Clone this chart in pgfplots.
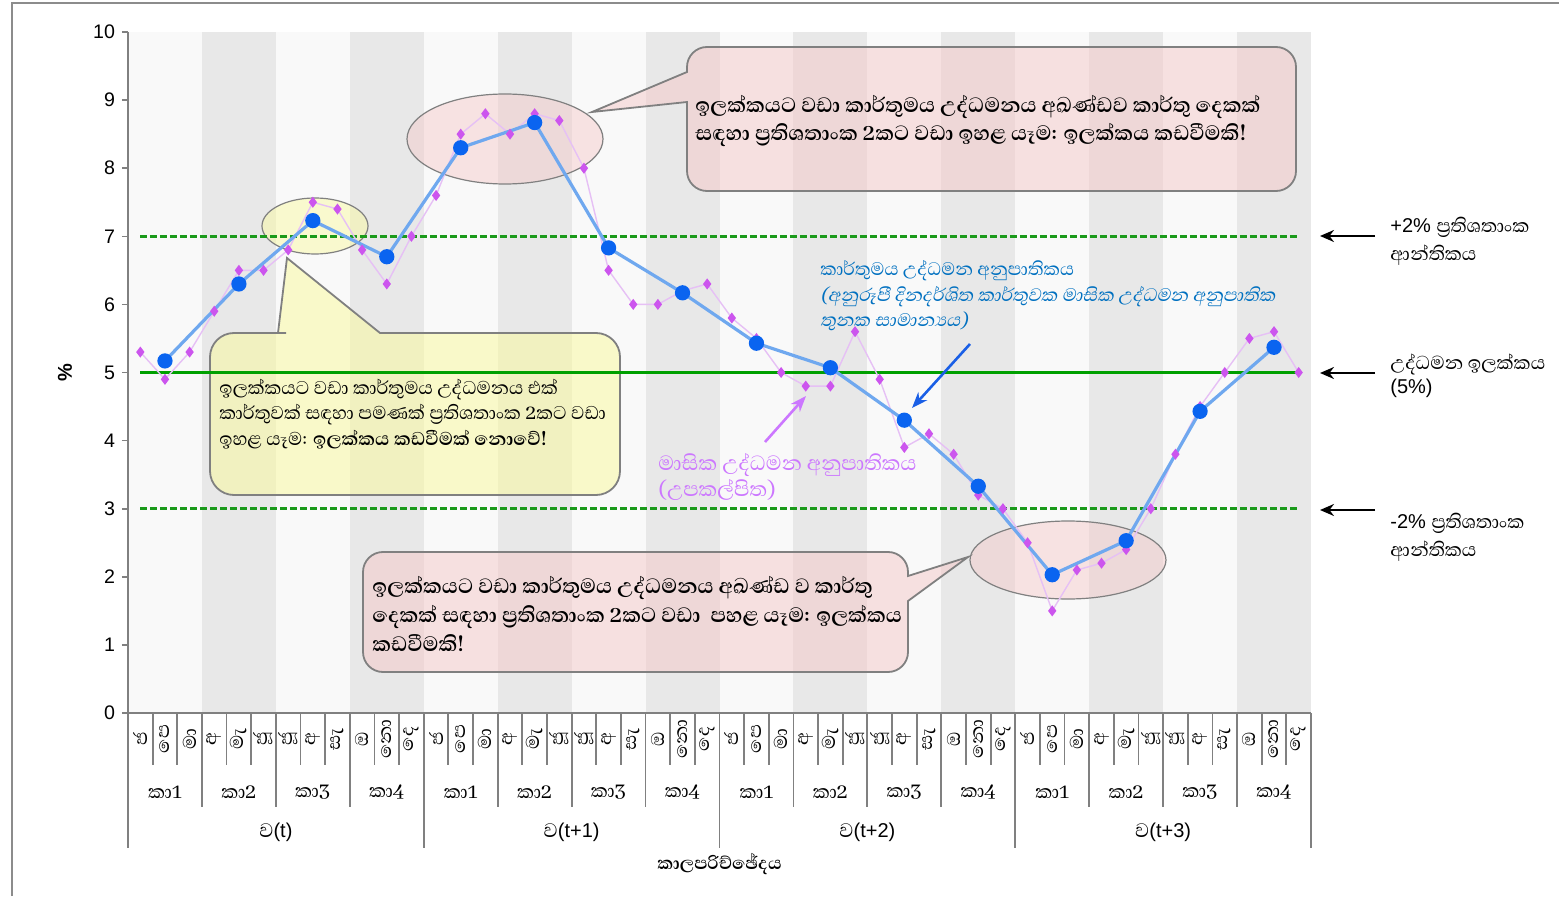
\documentclass[border=0pt]{standalone}
\usepackage{pgfplots}
\pgfplotsset{compat=1.18}
\usepackage{pgfplotstable}
\usepackage{fontspec}
\usetikzlibrary{arrows.meta}
\setmainfont{Liberation Sans}
\newfontfamily\sinhf[Script=Sinhala,Scale=1.25]{Abhaya Libre}
\newfontfamily\sinhit[Script=Sinhala,Scale=1.25,FakeSlant=0.2]{Abhaya Libre}
\newfontfamily\sinhr[Script=Sinhala,Scale=1.2]{Abhaya Libre}

\definecolor{bandgray}{HTML}{E8E8E8}
\definecolor{bandlight}{HTML}{F9F9F9}
\definecolor{calloutpink}{HTML}{F5C8C8}
\definecolor{calloutyellow}{HTML}{FAFA9A}
\definecolor{edgegray}{HTML}{808080}
\definecolor{targetgreen}{HTML}{00A000}
\definecolor{bandgreen}{HTML}{1A9A1A}
\definecolor{monthline}{HTML}{E6C0F5}
\definecolor{monthmark}{HTML}{CC55EE}
\definecolor{qline}{HTML}{6FA8EF}
\definecolor{qmark}{HTML}{0A64F0}
\definecolor{bluetext}{HTML}{0070C0}
\definecolor{pinktext}{HTML}{CC77FF}
\definecolor{bluearrow}{HTML}{1A5FE6}
\definecolor{framegray}{HTML}{8C8C8C}

% monthly inflation (x = month index 0..47)
\pgfplotstableread{
x y
0 5.3
1 4.9
2 5.3
3 5.9
4 6.5
5 6.5
6 6.8
7 7.5
8 7.4
9 6.8
10 6.3
11 7.0
12 7.6
13 8.5
14 8.8
15 8.5
16 8.8
17 8.7
18 8.0
19 6.5
20 6.0
21 6.0
22 6.2
23 6.3
24 5.8
25 5.5
26 5.0
27 4.8
28 4.8
29 5.6
30 4.9
31 3.9
32 4.1
33 3.8
34 3.2
35 3.0
36 2.5
37 1.5
38 2.1
39 2.2
40 2.4
41 3.0
42 3.8
43 4.5
44 5.0
45 5.5
46 5.6
47 5.0
}\monthly

% quarterly averages, plotted at middle month of each quarter
\pgfplotstableread{
x y
1 5.17
4 6.30
7 7.23
10 6.70
13 8.30
16 8.67
19 6.83
22 6.17
25 5.43
28 5.07
31 4.30
34 3.33
37 2.03
40 2.53
43 4.43
46 5.37
}\quarterly

\begin{document}
\begin{tikzpicture}
\useasboundingbox (0,0) rectangle (779.5pt,448pt);

% background: frame, quarter bands, callouts (pixel coordinates)
\begin{scope}[x=0.5pt,y=-0.5pt,shift={(0pt,448pt)}]
  \draw[framegray, line width=1pt] (12,896) -- (12,3) -- (1559,3);
  \fill[bandlight] (128,32) rectangle (1311,713);
  \foreach \q in {1,3,...,15}
    \fill[bandgray] ({128+73.9375*\q},32) rectangle ({128+73.9375*(\q+1)},713);

  % ellipses
  \draw[edgegray, line width=0.6pt, fill=calloutyellow, fill opacity=0.45]
    (315,226) ellipse [x radius=53, y radius=28];
  \draw[edgegray, line width=0.6pt, fill=calloutpink, fill opacity=0.45]
    (505,139) ellipse [x radius=98, y radius=45];
  \draw[edgegray, line width=0.6pt, fill=calloutpink, fill opacity=0.45]
    (1068,560) ellipse [x radius=98, y radius=39];

  % top pink callout
  \draw[edgegray, line width=0.9pt, fill=calloutpink, fill opacity=0.5]
    (800,191) [rounded corners=10pt] -- (1296,191) -- (1296,47) -- (687,47)
    [sharp corners] -- (687,72) -- (592,112) -- (687,102)
    [rounded corners=10pt] -- (687,191) -- cycle;
  % yellow callout
  \draw[edgegray, line width=0.9pt, fill=calloutyellow, fill opacity=0.5]
    (450,333) [rounded corners=12pt] -- (620,333) -- (620,495) -- (210,495) -- (210,333)
    -- (262,333) [sharp corners] -- (278,333) -- (287,258) -- (380,333) -- cycle;
  % bottom pink callout
  \draw[edgegray, line width=0.9pt, fill=calloutpink, fill opacity=0.5]
    (600,672) [rounded corners=10pt] -- (363,672) -- (363,552) -- (908,552)
    [sharp corners] -- (908,576) -- (968,557) -- (908,601)
    [rounded corners=10pt] -- (908,672) -- cycle;

  \node[anchor=west, align=left, inner sep=0pt, font=\fontsize{10.6}{14}\selectfont\sinhf\bfseries]
    at (695,121) {ඉලක්කයට වඩා කාර්තුමය උද්ධමනය අඛණ්ඩව කාර්තු දෙකක්\\
    සඳහා ප්^^^^200dරතිශතාංක 2කට වඩා ඉහළ යෑම: ඉලක්කය කඩවීමකි!};
  \node[anchor=west, align=left, inner sep=0pt, font=\fontsize{9.45}{12.75}\selectfont\sinhf]
    at (219,414) {ඉලක්කයට වඩා කාර්තුමය උද්ධමනය එක්\\
    කාර්තුවක් සඳහා පමණක් ප්^^^^200dරතිශතාංක 2කට වඩා\\
    ඉහළ යෑම: \textbf{ඉලක්කය කඩවීමක් නොවේ!}};
  \node[anchor=west, align=left, inner sep=0pt, font=\fontsize{10.6}{14.5}\selectfont\sinhf\bfseries]
    at (372,614) {ඉලක්කයට වඩා කාර්තුමය උද්ධමනය අඛණ්ඩ ව කාර්තු\\
    දෙකක් සඳහා ප්^^^^200dරතිශතාංක 2කට වඩා\ \ පහළ යෑම: ඉලක්කය\\
    කඩවීමකි!};
\end{scope}

\begin{axis}[
  at={(64pt,91.5pt)}, anchor=south west,
  scale only axis, width=591.5pt, height=340.5pt,
  xmin=-0.5, xmax=47.5, ymin=0, ymax=10,
  axis x line*=bottom, axis y line*=left,
  xtick=\empty, ytick={0,1,...,10},
  tick align=outside, major tick length=3pt,
  axis line style={edgegray, line width=0.8pt},
  ytick style={edgegray, line width=0.8pt},
  /pgf/number format/assume math mode=true,
  yticklabel style={font=\fontsize{9.8}{12}\selectfont},
  ylabel={\bfseries\%},
  ylabel style={at={(axis description cs:-0.0533,0.5)}, anchor=center, font=\fontsize{10}{12}\selectfont},
  xlabel={\sinhf\bfseries කාලපරිච්ඡේදය},
  xlabel style={at={(axis description cs:0.5,-0.2217)}, anchor=center, font=\fontsize{9}{12}\selectfont},
  clip=false,
]
  \addplot[bandgreen, line width=1.3pt, dash pattern=on 3.5pt off 1.5pt] coordinates {(0,7) (47,7)};
  \addplot[bandgreen, line width=1.3pt, dash pattern=on 3.5pt off 1.5pt] coordinates {(0,3) (47,3)};
  \addplot[targetgreen, line width=1.3pt] coordinates {(0,5) (47,5)};
  \addplot[monthline, line width=0.7pt, mark=diamond*, mark size=2.2pt,
    mark options={fill=monthmark, draw=monthmark}] table[x=x, y=y] {\monthly};
  \addplot[qline, line width=1.6pt, mark=*, mark size=3pt,
    mark options={fill=qmark, draw=qmark}] table[x=x, y=y] {\quarterly};
\end{axis}

% foreground: multi-level category axis and annotations (pixel coordinates)
\begin{scope}[x=0.5pt,y=-0.5pt,shift={(0pt,448pt)}]
  \foreach \k in {1,...,47}
    \draw[edgegray, line width=0.9pt] ({128+24.6458*\k},713) -- ({128+24.6458*\k},765);
  \foreach \k in {1,...,15}
    \draw[edgegray, line width=0.9pt] ({128+73.9375*\k},713) -- ({128+73.9375*\k},807);
  \foreach \k in {0,...,4}
    \draw[edgegray, line width=0.9pt] ({128+295.75*\k},713) -- ({128+295.75*\k},848);

  \foreach \yr in {0,...,3}{
    \foreach \m [count=\i from 0] in {ජ,පෙ,මා,අ,මැ,ජූ,ජූ,අ,සැ,ඔ,නො,දෙ}
      \node[rotate=90, inner sep=0pt, font=\fontsize{9.5}{11}\selectfont\sinhf]
        at ({128+24.6458*(12*\yr+\i+0.5)},739) {\m};
    \foreach \q in {1,...,4}
      \node[inner sep=0pt, font=\fontsize{9.6}{12}\selectfont\sinhf]
        at ({128+73.9375*(4*\yr+\q-0.5)},792) {කා\q};
  }
  \foreach \t [count=\i from 0] in {(t),(t+1),(t+2),(t+3)}
    \node[inner sep=0pt, font=\fontsize{10}{12}\selectfont]
      at ({128+295.75*(\i+0.5)},832) {{\sinhf ව}\t};

  % right-hand notes
  \foreach \yy in {236,373,510}
    \draw[-{Stealth[length=7pt,width=6pt]}, line width=1pt] (1375,\yy) -- (1320,\yy);
  \node[anchor=west, align=left, inner sep=0pt, font=\fontsize{10}{14}\selectfont]
    at (1390,241) {+2\% {\sinhr ප්^^^^200dරතිශතාංක}\\{\sinhr ආන්තිකය}};
  \node[anchor=west, align=left, inner sep=0pt, font=\fontsize{10}{12}\selectfont]
    at (1390,376) {{\sinhr උද්ධමන ඉලක්කය}\\(5\%)};
  \node[anchor=west, align=left, inner sep=0pt, font=\fontsize{10}{14}\selectfont]
    at (1390,537) {-2\% {\sinhr ප්^^^^200dරතිශතාංක}\\{\sinhr ආන්තිකය}};

  % series notes
  \node[anchor=west, align=left, inner sep=0pt, text=bluetext, font=\fontsize{9.25}{12.75}\selectfont]
    at (820,296) {{\sinhf කාර්තුමය උද්ධමන අනුපාතිකය}\\
    {\sinhit (අනුරූපී දිනදර්ශිත කාර්තුවක මාසික උද්ධමන අනුපාතික}\\
    {\sinhit තුනක සාමාන්^^^^200dයය)}};
  \draw[bluearrow, line width=1.3pt, -{Stealth[length=8pt,width=6pt]}] (970,344) -- (912,408);
  \node[anchor=west, align=left, inner sep=0pt, text=pinktext, font=\fontsize{10.5}{13.5}\selectfont\sinhf]
    at (658,477) {මාසික උද්ධමන අනුපාතිකය\\(උපකල්පිත)};
  \draw[pinktext, line width=1.3pt, -{Stealth[length=8pt,width=6pt]}] (765,442) -- (806,396);
\end{scope}
\end{tikzpicture}
\end{document}
